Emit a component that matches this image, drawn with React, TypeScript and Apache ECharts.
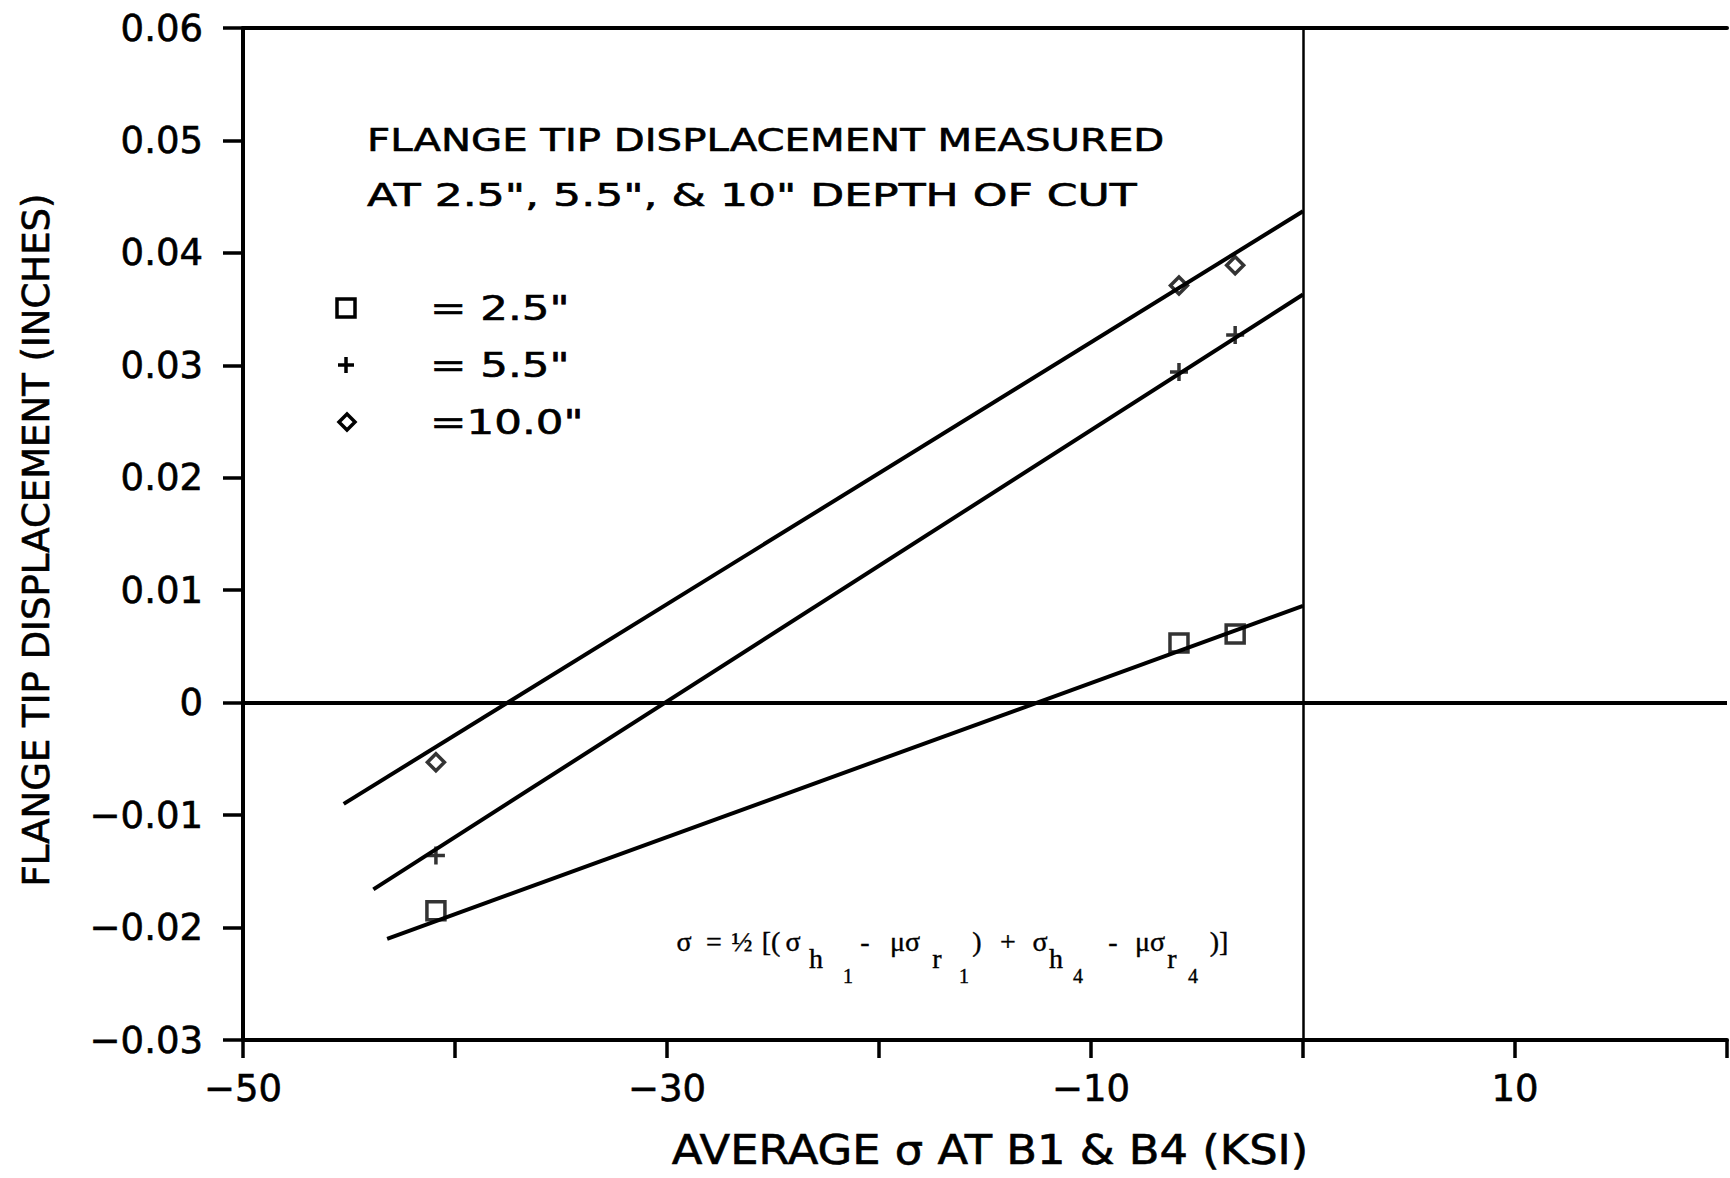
import React, { useEffect, useRef } from "react";
import * as echarts from "echarts";

// ---- data ----
const xTickLabels = ["−50", "−30", "−10", "10"];
const yTickLabels = ["−0.03", "−0.02", "−0.01", "0", "0.01", "0.02", "0.03", "0.04", "0.05", "0.06"];

// measured points: [average sigma (ksi), flange tip displacement (in)]
const cut25Points = [[-40.9, -0.0185], [-5.85, 0.0053], [-3.2, 0.0061]];
const cut55Points = [[-40.9, -0.0136], [-5.85, 0.0294], [-3.2, 0.0327]];
const cut100Points = [[-40.9, -0.0053], [-5.85, 0.0371], [-3.2, 0.0389]];

// fitted straight lines: [start, end]
const cut25Fit = [[-43.2, -0.021], [0, 0.0086]];
const cut55Fit = [[-43.85, -0.0166], [0, 0.0363]];
const cut100Fit = [[-45.25, -0.009], [0, 0.0437]];

const legendLabels = ["= 2.5\"", "= 5.5\"", "=10.0\""];
const titleLines = ["FLANGE TIP DISPLACEMENT MEASURED", "AT 2.5\", 5.5\", & 10\" DEPTH OF CUT"];
const xAxisTitle = "AVERAGE σ AT B1 & B4 (KSI)";
const yAxisTitle = "FLANGE TIP DISPLACEMENT (INCHES)";

const SANS = "DejaVu Sans";
const SERIF = "Liberation Serif";
const BLACK = "#000";

function txt(text: string, x: number, y: number, size: number, opts: any = {}) {
  return {
    type: "text",
    x,
    y,
    scaleX: opts.scaleX ?? 1,
    rotation: opts.rotation ?? 0,
    silent: true,
    style: {
      text,
      x: 0,
      y: 0,
      fill: BLACK,
      stroke: BLACK,
      lineWidth: opts.lw ?? 0.6,
      fontFamily: opts.family ?? SANS,
      fontSize: size,
      fontWeight: opts.weight ?? "normal",
      textAlign: opts.align ?? "left",
      textVerticalAlign: "middle",
    },
  };
}

export default function App() {
  const ref = useRef<HTMLDivElement | null>(null);

  useEffect(() => {
    if (!ref.current) return;
    const chart = echarts.init(ref.current, undefined, { renderer: "svg" });

    const xLabelFmt = (v: number) => {
      const k = Math.round(v);
      if ((k + 50) % 20 !== 0) return "";
      const idx = (k + 50) / 20;
      return xTickLabels[idx] ?? "";
    };
    const yLabelFmt = (v: number) => {
      const idx = Math.round((v + 0.03) / 0.01);
      return yTickLabels[idx] ?? "";
    };

    const axisLineStyle = { color: BLACK, width: 4 };
    const labelStyle = {
      color: BLACK,
      fontFamily: SANS,
      fontSize: 37,
      textBorderColor: BLACK,
      textBorderWidth: 0.6,
    };

    const hollow = { color: "rgba(0,0,0,0)", borderColor: BLACK, borderWidth: 3.5 };

    const formulaMain = 941;
    const formulaSub = 958;
    const formulaSub2 = 976;
    const fs = 28;
    const fs2 = 20;
    const F = (t: string, x: number, y: number, s: number) =>
      txt(t, x, y, s, { family: SERIF, align: "center", lw: 0.4 });

    const option: any = {
      animation: false,
      backgroundColor: "#fff",
      grid: { left: 243, right: 0, top: 28, bottom: 138, containLabel: false },
      xAxis: [
        {
          type: "value",
          min: -50,
          max: 20,
          interval: 10,
          position: "bottom",
          axisLine: { show: true, onZero: false, lineStyle: axisLineStyle },
          axisTick: { show: true, length: 18, lineStyle: { color: BLACK, width: 3.5 } },
          axisLabel: { ...labelStyle, margin: 30, formatter: xLabelFmt, showMinLabel: true, showMaxLabel: true },
          splitLine: { show: false },
        },
        {
          type: "value",
          min: -50,
          max: 20,
          position: "top",
          axisLine: { show: true, onZero: false, lineStyle: axisLineStyle },
          axisTick: { show: false },
          axisLabel: { show: false },
          splitLine: { show: false },
        },
      ],
      yAxis: {
        type: "value",
        min: -0.03,
        max: 0.06,
        interval: 0.01,
        axisLine: { show: true, onZero: false, lineStyle: axisLineStyle },
        axisTick: { show: true, length: 20, lineStyle: { color: BLACK, width: 3.5 } },
        axisLabel: { ...labelStyle, margin: 40, formatter: yLabelFmt },
        splitLine: { show: false },
      },
      series: [
        {
          name: "fit 2.5",
          type: "line",
          data: cut25Fit,
          symbol: "none",
          lineStyle: { color: BLACK, width: 4 },
          z: 2,
          markLine: {
            silent: true,
            symbol: ["none", "none"],
            label: { show: false },
            lineStyle: { color: BLACK, type: "solid", width: 4 },
            data: [
              { yAxis: 0, lineStyle: { color: BLACK, type: "solid", width: 4 } },
              { xAxis: 0, lineStyle: { color: BLACK, type: "solid", width: 2.5 } },
            ],
          },
        },
        {
          name: "fit 5.5",
          type: "line",
          data: cut55Fit,
          symbol: "none",
          lineStyle: { color: BLACK, width: 4 },
          z: 2,
        },
        {
          name: "fit 10.0",
          type: "line",
          data: cut100Fit,
          symbol: "none",
          lineStyle: { color: BLACK, width: 4 },
          z: 2,
        },
        {
          name: "2.5",
          type: "scatter",
          data: cut25Points,
          symbol: "rect",
          symbolSize: 18,
          itemStyle: hollow,
          z: 3,
        },
        {
          name: "5.5",
          type: "scatter",
          data: cut55Points,
          symbol: "path://M0,8L16,8M8,0L8,16",
          symbolSize: 18,
          itemStyle: hollow,
          z: 3,
        },
        {
          name: "10.0",
          type: "scatter",
          data: cut100Points,
          symbol: "diamond",
          symbolSize: 17,
          itemStyle: hollow,
          z: 3,
        },
      ],
      graphic: [
        // title block
        txt(titleLines[0], 367, 140, 32, { scaleX: 1.257 }),
        txt(titleLines[1], 367, 195, 32, { scaleX: 1.378 }),
        // legend symbols
        {
          type: "rect",
          silent: true,
          shape: { x: 337, y: 299, width: 18, height: 18 },
          style: { fill: "none", stroke: BLACK, lineWidth: 3.5 },
        },
        {
          type: "line",
          silent: true,
          shape: { x1: 338, y1: 365, x2: 354, y2: 365 },
          style: { stroke: BLACK, lineWidth: 3.5 },
        },
        {
          type: "line",
          silent: true,
          shape: { x1: 346, y1: 357, x2: 346, y2: 373 },
          style: { stroke: BLACK, lineWidth: 3.5 },
        },
        {
          type: "polygon",
          silent: true,
          shape: { points: [[347, 414], [355, 422], [347, 430], [339, 422]] },
          style: { fill: "none", stroke: BLACK, lineWidth: 3.5 },
        },
        txt(legendLabels[0], 430, 308, 33, { scaleX: 1.32 }),
        txt(legendLabels[1], 430, 365, 33, { scaleX: 1.32 }),
        txt(legendLabels[2], 430, 422, 33, { scaleX: 1.32 }),
        // axis titles
        txt(xAxisTitle, 990, 1150, 40, { align: "center", scaleX: 1.12 }),
        txt(yAxisTitle, 36, 540, 37, { align: "center", rotation: Math.PI / 2 }),
        // formula
        F("σ", 684, formulaMain, fs),
        F("=", 714, formulaMain, fs),
        F("½", 742, formulaMain, fs),
        F("[(", 771, formulaMain, fs),
        F("σ", 793, formulaMain, fs),
        F("h", 816, formulaSub, fs),
        F("1", 848, formulaSub2, fs2),
        F("-", 865, formulaMain, fs),
        F("μσ", 905, formulaMain, fs),
        F("r", 937, formulaSub, fs),
        F("1", 964, formulaSub2, fs2),
        F(")", 977, formulaMain, fs),
        F("+", 1008, formulaMain, fs),
        F("σ", 1040, formulaMain, fs),
        F("h", 1056, formulaSub, fs),
        F("4", 1078, formulaSub2, fs2),
        F("-", 1113, formulaMain, fs),
        F("μσ", 1150, formulaMain, fs),
        F("r", 1172, formulaSub, fs),
        F("4", 1193, formulaSub2, fs2),
        F(")]", 1219, formulaMain, fs),
      ],
    };

    chart.setOption(option);
    return () => {
      chart.dispose();
    };
  }, []);

  return (
    <div
      ref={ref}
      style={{ position: "absolute", left: 0, top: 0, width: 1730, height: 1178, background: "#fff" }}
    />
  );
}
